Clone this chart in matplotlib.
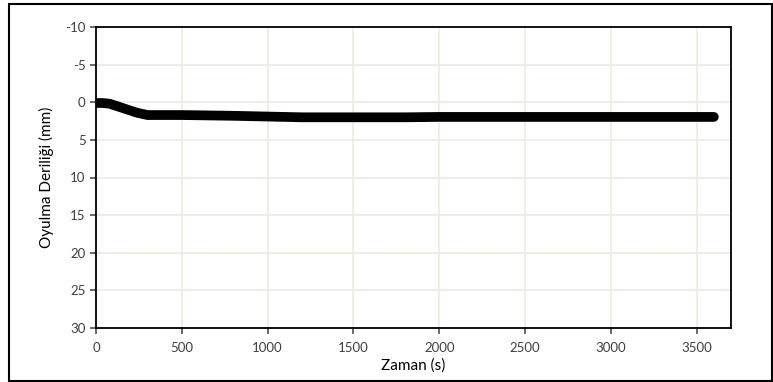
import matplotlib.pyplot as plt
from matplotlib.patches import Rectangle

# scour depth over time
time_s = [0, 40, 80, 120, 160, 200, 240, 300, 500, 800, 1000, 1200, 1500, 1800, 2000, 2500, 3000, 3500, 3600]
depth_mm = [0.1, 0.1, 0.2, 0.5, 0.8, 1.1, 1.4, 1.7, 1.7, 1.8, 1.9, 2.0, 2.0, 2.0, 1.95, 1.95, 1.95, 1.95, 1.95]

x_ticks = [0, 500, 1000, 1500, 2000, 2500, 3000, 3500]
y_ticks = [-10, -5, 0, 5, 10, 15, 20, 25, 30]

plt.rcParams['font.family'] = ['Lato', 'DejaVu Sans']
plt.rcParams['axes.unicode_minus'] = False

W, H = 773, 382
fig = plt.figure(figsize=(W / 100, H / 100), dpi=100)
ax = fig.add_axes([96 / W, 1 - 328 / H, (731 - 96) / W, (328 - 27) / H])

ax.plot(time_s, depth_mm, color='black', linewidth=7, solid_capstyle='round',
        solid_joinstyle='round', zorder=3)

ax.set_xlim(0, 3700)
ax.set_ylim(30, -10)
ax.set_xticks(x_ticks)
ax.set_yticks(y_ticks)
ax.grid(True, color='#EEECE1', linewidth=1.2, zorder=0)
ax.set_axisbelow(True)

for side in ['left', 'bottom', 'right', 'top']:
    ax.spines[side].set_color('black')
    ax.spines[side].set_linewidth(1.3)

ax.tick_params(axis='both', labelsize=9.5, colors='#404040', length=4, width=1.1,
               direction='out')
ax.tick_params(axis='x', pad=6)
for t in ax.get_xticklines() + ax.get_yticklines():
    t.set_color('black')

ax.set_xlabel('Zaman (s)', fontsize=11, color='black', labelpad=3)
ax.set_ylabel('Oyulma Deriliği (mm)', fontsize=11, color='black', labelpad=8)

# outer chart border
fig.patches.append(Rectangle((9 / W, 1 - 381 / H), (772 - 9) / W, (381 - 4) / H,
                             transform=fig.transFigure, fill=False,
                             edgecolor='black', linewidth=1.5))

fig.savefig('out.png', dpi=100)
